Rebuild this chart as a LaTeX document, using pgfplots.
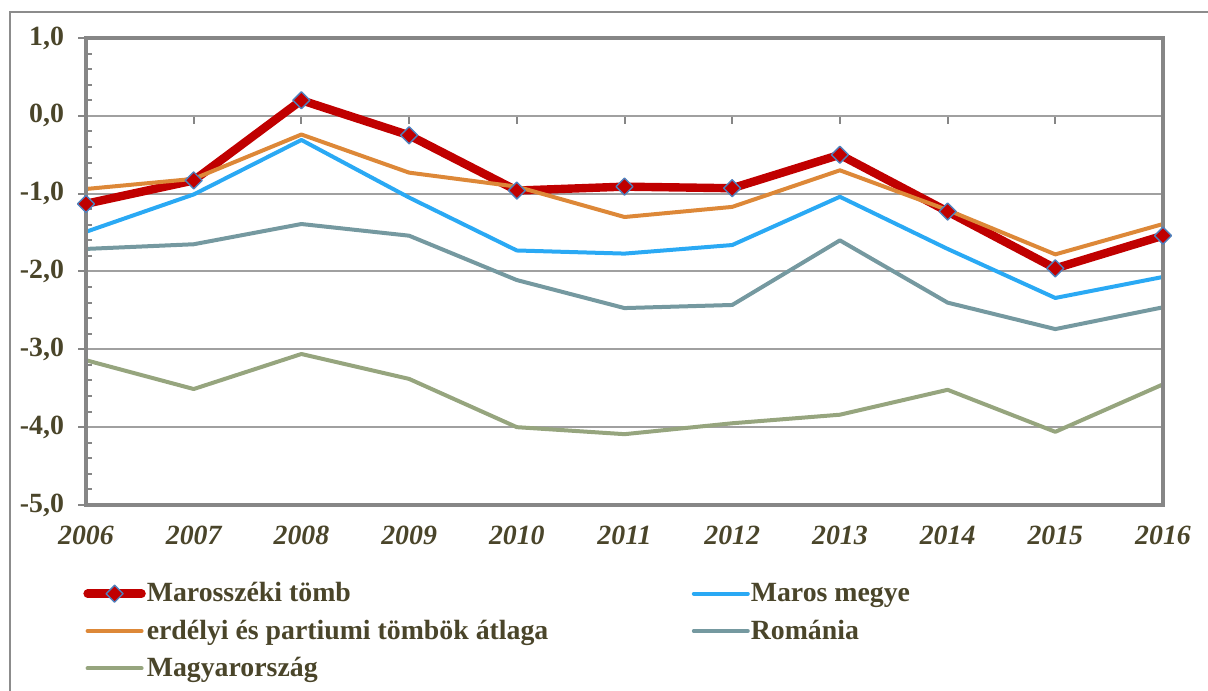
\documentclass[border=0pt]{standalone}
\usepackage{fontspec}
\setmainfont{Liberation Serif}
\usepackage{pgfplots}
\usepackage{pgfplotstable}
\pgfplotsset{compat=1.18}
\definecolor{txt}{HTML}{4A452A}
\definecolor{gridgray}{HTML}{A0A0A0}
\definecolor{framegray}{HTML}{868686}
\definecolor{outergray}{HTML}{8C8C8C}
\definecolor{cred}{HTML}{C00000}
\definecolor{cmark}{HTML}{4F81BD}
\definecolor{cblue}{HTML}{2AA9F4}
\definecolor{corange}{HTML}{DD8838}
\definecolor{crom}{HTML}{7599A0}
\definecolor{chun}{HTML}{96A57E}

\pgfplotstableread{
year val
2006 -1.13
2007 -0.83
2008 0.20
2009 -0.25
2010 -0.96
2011 -0.91
2012 -0.93
2013 -0.50
2014 -1.23
2015 -1.96
2016 -1.54
}\marosszek
\pgfplotstableread{
year val
2006 -1.49
2007 -1.01
2008 -0.31
2009 -1.05
2010 -1.73
2011 -1.77
2012 -1.66
2013 -1.04
2014 -1.71
2015 -2.34
2016 -2.07
}\marosm
\pgfplotstableread{
year val
2006 -0.94
2007 -0.81
2008 -0.24
2009 -0.73
2010 -0.91
2011 -1.30
2012 -1.17
2013 -0.70
2014 -1.21
2015 -1.78
2016 -1.39
}\erdely
\pgfplotstableread{
year val
2006 -1.71
2007 -1.65
2008 -1.39
2009 -1.54
2010 -2.11
2011 -2.47
2012 -2.43
2013 -1.60
2014 -2.40
2015 -2.74
2016 -2.46
}\romania
\pgfplotstableread{
year val
2006 -3.14
2007 -3.51
2008 -3.06
2009 -3.38
2010 -4.00
2011 -4.09
2012 -3.95
2013 -3.84
2014 -3.52
2015 -4.06
2016 -3.45
}\magyar

\newcommand{\lf}{\fontsize{13.9bp}{16bp}\selectfont\bfseries}

\begin{document}
\begin{tikzpicture}
\useasboundingbox (0,0) rectangle (604bp,345.5bp);
\draw[outergray, line width=0.8bp] (5bp,-2bp) -- (5bp,339.5bp) -- (610bp,339.5bp);
\begin{axis}[
  at={(43bp,93bp)}, anchor=south west,
  width=538.5bp, height=233.5bp, scale only axis,
  xmin=2006, xmax=2016, ymin=-5, ymax=1,
  axis x line=middle, axis y line=left,
  x axis line style={draw=gridgray, line width=1bp, -},
  y axis line style={draw=framegray, line width=2.2bp, -},
  hide obscured x ticks=false, hide obscured y ticks=false,
  xtick={2006,2007,2008,2009,2010,2011,2012,2013,2014,2015,2016},
  xticklabels={2006,2007,2008,2009,2010,2011,2012,2013,2014,2015,2016},
  ytick={-5,-4,-3,-2,-1,0,1},
  yticklabels={{-5,0},{-4,0},{-3,0},{-2,0},{-1,0},{0,0},{1,0}},
  minor y tick num=4,
  tick align=outside,
  major tick length=4bp,
  minor tick length=-3bp,
  ymajorgrids,
  major grid style={draw=gridgray, line width=1bp},
  tick style={draw=framegray, line width=1bp},
  xticklabel style={font=\lf\itshape, text=txt, yshift=-197.5bp},
  yticklabel style={font=\lf, text=txt, xshift=-3.5bp},
  clip=false,
  legend columns=2,
  legend cell align=left,
  legend style={at={([xshift=-1.5bp]0,-0.163)}, anchor=north west, draw=none, fill=none,
    inner sep=0pt, font=\lf, text=txt, row sep=6.5bp,
    nodes={inner sep=0.5bp}},
  legend image code/.code={\draw[mark repeat=2,mark phase=2,line cap=round,#1]
     plot coordinates {(0bp,0bp) (13.5bp,0bp) (27bp,0bp)};},
  every axis plot/.append style={line join=round},
]
\addplot[cred, line width=4.2bp, mark=square*, mark size=3bp,
  mark options={rotate=45, fill=cred, draw=cmark, line width=0.7bp}]
  table[x=year,y=val]{\marosszek};
\addlegendentry{\makebox[272bp][l]{Marosszéki tömb}}
\addplot[cblue, line width=2bp] table[x=year,y=val]{\marosm};
\addlegendentry{Maros megye}
\addplot[corange, line width=2bp] table[x=year,y=val]{\erdely};
\addlegendentry{\makebox[272bp][l]{erdélyi és partiumi tömbök átlaga}}
\addplot[crom, line width=2bp] table[x=year,y=val]{\romania};
\addlegendentry{Románia}
\addplot[chun, line width=2bp] table[x=year,y=val]{\magyar};
\addlegendentry{\makebox[272bp][l]{Magyarország}}
\draw[framegray, line width=2.2bp] (rel axis cs:0,0) rectangle (rel axis cs:1,1);
\end{axis}
\end{tikzpicture}
\end{document}
